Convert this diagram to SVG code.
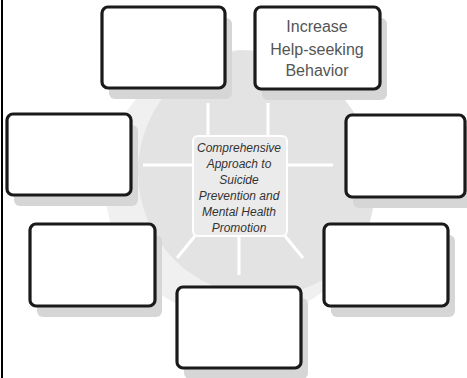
<svg xmlns="http://www.w3.org/2000/svg" width="467" height="378" viewBox="0 0 467 378">
  <defs>
    <style>
      .shadow { fill: #d6d6d6; }
      .box { fill: #ffffff; stroke: #1a1a1a; stroke-width: 3.2; }
      .hub { fill: #ebebeb; stroke: #ffffff; stroke-width: 2; }
      .spoke { stroke: #ffffff; stroke-width: 3; fill: none; stroke-linecap: butt; }
      .label { font-family: "Liberation Sans", Arial, sans-serif; font-size: 16px; fill: #555555; text-anchor: middle; }
      .hubtext { font-family: "Liberation Sans", Arial, sans-serif; font-size: 12px; font-style: italic; fill: #333333; text-anchor: middle; }
    </style>
    <clipPath id="disc">
      <circle cx="240" cy="185" r="135"/>
    </clipPath>
  </defs>

  <rect x="0" y="0" width="467" height="378" fill="#ffffff"/>

  <!-- backdrop disc: pale rim with a slightly deeper core -->
  <circle cx="240" cy="185" r="135" fill="#f0f0f0"/>
  <circle cx="262" cy="172" r="124" fill="#e3e3e3" clip-path="url(#disc)"/>

  <!-- left frame edge -->
  <line x1="2" y1="0" x2="2" y2="378" stroke="#000000" stroke-width="2"/>

  <!-- spokes -->
  <g id="connectors">
    <line class="spoke" x1="208" y1="103" x2="208" y2="136"/>
    <line class="spoke" x1="268" y1="103" x2="268" y2="136"/>
    <line class="spoke" x1="143" y1="165" x2="194" y2="165"/>
    <line class="spoke" x1="286" y1="165" x2="333" y2="165"/>
    <line class="spoke" x1="195" y1="236" x2="177" y2="258"/>
    <line class="spoke" x1="239" y1="236" x2="239" y2="275"/>
    <line class="spoke" x1="285" y1="236" x2="303" y2="258"/>
  </g>

  <g id="hub">
    <rect class="hub" x="193" y="136" width="94" height="100" rx="5"/>
    <text class="hubtext" x="239" y="152">Comprehensive</text>
    <text class="hubtext" x="239" y="168">Approach to</text>
    <text class="hubtext" x="239" y="184">Suicide</text>
    <text class="hubtext" x="239" y="200">Prevention and</text>
    <text class="hubtext" x="239" y="216">Mental Health</text>
    <text class="hubtext" x="239" y="232">Promotion</text>
  </g>

  <g id="box-top-left">
    <rect class="shadow" x="109" y="18" width="123" height="81" rx="6"/>
    <rect class="box" x="102" y="7" width="123" height="81" rx="6"/>
  </g>

  <g id="box-top-right">
    <rect class="shadow" x="262" y="18" width="125" height="82" rx="6"/>
    <rect class="box" x="255" y="7" width="125" height="82" rx="6"/>
    <text class="label" x="317" y="32">Increase</text>
    <text class="label" x="317" y="55">Help-seeking</text>
    <text class="label" x="317" y="76">Behavior</text>
  </g>

  <g id="box-left">
    <rect class="shadow" x="14" y="125" width="124" height="81" rx="6"/>
    <rect class="box" x="7" y="114" width="124" height="81" rx="6"/>
  </g>

  <g id="box-right">
    <rect class="shadow" x="353" y="126" width="119" height="82" rx="6"/>
    <rect class="box" x="346" y="115" width="119" height="82" rx="6"/>
  </g>

  <g id="box-bottom-left">
    <rect class="shadow" x="37" y="235" width="125" height="82" rx="6"/>
    <rect class="box" x="30" y="224" width="125" height="82" rx="6"/>
  </g>

  <g id="box-bottom-right">
    <rect class="shadow" x="331" y="235" width="124" height="82" rx="6"/>
    <rect class="box" x="324" y="224" width="124" height="82" rx="6"/>
  </g>

  <g id="box-bottom">
    <rect class="shadow" x="184" y="298" width="124" height="81" rx="6"/>
    <rect class="box" x="177" y="287" width="124" height="81" rx="6"/>
  </g>
</svg>
